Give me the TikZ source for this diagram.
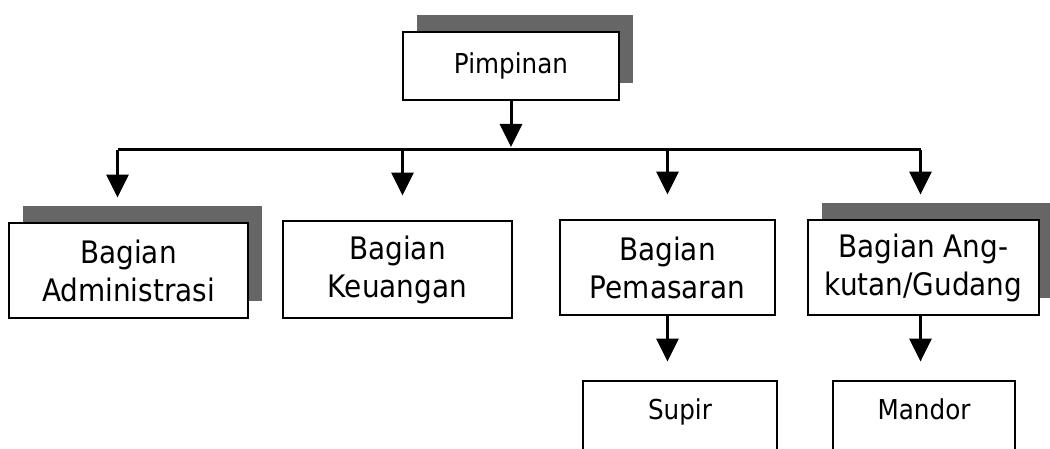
\documentclass[tikz,border=0pt]{standalone}
\usepackage{fontspec}
\setmainfont{DejaVu Sans}[FakeStretch=0.9]
\usetikzlibrary{arrows.meta,shadows}

\begin{document}
\begin{tikzpicture}[x=0.5pt,y=-0.5pt,
    unit/.style={draw, line width=1.4pt, fill=white, align=center,
      font=\fontsize{13.7}{19}\selectfont, inner sep=0pt},
    big/.style={font=\fontsize{15.5}{19}\selectfont},
    shade/.style={copy shadow={shadow xshift=7pt, shadow yshift=8.5pt,
      fill=black!60, draw=none}},
    link/.style={line width=1.5pt},
    arr/.style={link, -{Triangle[width=11pt,length=11.5pt]}}]
    \useasboundingbox (0,0) rectangle (1050,449);
    % top
    \node[unit, shade, minimum width=108pt, minimum height=34pt] (pim) at (511,66) {Pimpinan};
    % second row
    \node[unit, big, shade, minimum width=119.5pt, minimum height=47.5pt] (adm) at (128.5,270.5) {Bagian\\Administrasi};
    \node[unit, big, minimum width=114.5pt, minimum height=48.5pt] (keu) at (397.5,269.5) {Bagian\\Keuangan};
    \node[unit, big, minimum width=107.5pt, minimum height=47.5pt] (pem) at (667.5,267.5) {Bagian\\Pemasaran};
    \node[unit, big, shade, minimum width=115.5pt, minimum height=47.5pt] (ang) at (923.5,267.5) {Bagian Ang-\\kutan/Gudang};
    % third row
    \node[unit, minimum width=97pt, minimum height=47.5pt] (sup) at (680,428.5) {Supir\\\mbox{}};
    \node[unit, minimum width=91pt, minimum height=47.5pt] (man) at (924,428.5) {Mandor\\\mbox{}};
    % connectors
    \coordinate (bus) at (511,150);
    \draw[arr, shorten >=1.5pt] (pim) -- (bus);
    \draw[link] ([xshift=-5.5pt]adm.north |- bus) -- ([xshift=-1.5pt]ang.north |- bus);
    \foreach \n/\dx in {adm/-5.5,keu/2.5,pem/0,ang/-1.5}
        \draw[arr, shorten >=12pt] ([xshift=\dx pt]\n.north |- bus) -- ([xshift=\dx pt]\n.north);
    \draw[arr, shorten >=9pt] (pem) -- (pem |- sup.north);
    \draw[arr, shorten >=9pt] ([xshift=-1.5pt]ang.south) -- ([xshift=-1.5pt]ang.south |- man.north);
\end{tikzpicture}
\end{document}
